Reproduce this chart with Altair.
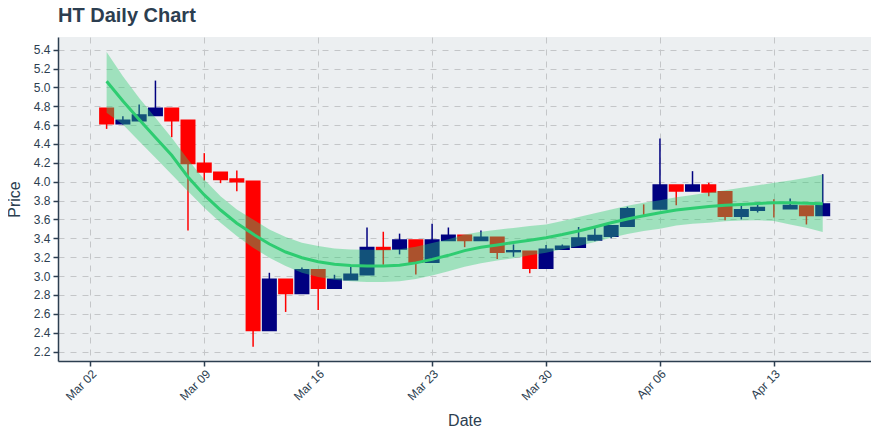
import altair as alt
import pandas as pd

dates = ["2020-03-03","2020-03-04","2020-03-05","2020-03-06","2020-03-07","2020-03-08","2020-03-09",
         "2020-03-10","2020-03-11","2020-03-12","2020-03-13","2020-03-14","2020-03-15","2020-03-16",
         "2020-03-17","2020-03-18","2020-03-19","2020-03-20","2020-03-21","2020-03-22","2020-03-23",
         "2020-03-24","2020-03-25","2020-03-26","2020-03-27","2020-03-28","2020-03-29","2020-03-30",
         "2020-03-31","2020-04-01","2020-04-02","2020-04-03","2020-04-04","2020-04-05","2020-04-06",
         "2020-04-07","2020-04-08","2020-04-09","2020-04-10","2020-04-11","2020-04-12","2020-04-13",
         "2020-04-14","2020-04-15","2020-04-16"]

opens = [4.775, 4.617, 4.648, 4.705, 4.775, 4.648, 4.193, 4.098, 4.027, 4.003, 2.425, 2.965, 2.817, 3.064,
         2.873, 2.965, 3.017, 3.300, 3.290, 3.380, 3.148, 3.380, 3.430, 3.380, 3.410, 3.262, 3.261, 3.085,
         3.286, 3.307, 3.385, 3.424, 3.530, 3.713, 3.713, 3.964, 3.904, 3.964, 3.890, 3.636, 3.700, 3.720,
         3.717, 3.741, 3.646]
highs = [4.780, 4.694, 4.818, 5.072, 4.775, 4.648, 4.303, 4.098, 4.119, 4.003, 3.035, 2.965, 3.090, 3.064,
         3.014, 3.100, 3.515, 3.470, 3.450, 3.380, 3.554, 3.515, 3.430, 3.484, 3.410, 3.335, 3.261, 3.330,
         3.335, 3.520, 3.530, 3.530, 3.735, 3.760, 4.458, 3.964, 4.112, 3.990, 3.890, 3.770, 3.784, 3.815,
         3.822, 3.745, 4.080]
lows = [4.560, 4.606, 4.645, 4.705, 4.472, 3.484, 4.013, 3.985, 3.900, 2.250, 2.425, 2.620, 2.817, 2.640,
        2.873, 2.965, 3.017, 3.120, 3.230, 3.017, 3.148, 3.380, 3.307, 3.380, 3.180, 3.205, 3.030, 3.085,
        3.285, 3.307, 3.370, 3.400, 3.530, 3.636, 3.710, 3.752, 3.904, 3.847, 3.593, 3.600, 3.674, 3.620,
        3.710, 3.547, 3.646]
closes = [4.617, 4.648, 4.705, 4.775, 4.648, 4.197, 4.105, 4.027, 4.003, 2.425, 2.965, 2.817, 3.064, 2.873,
          2.965, 3.017, 3.300, 3.285, 3.380, 3.148, 3.380, 3.430, 3.380, 3.410, 3.255, 3.266, 3.085, 3.282,
          3.314, 3.400, 3.427, 3.530, 3.710, 3.713, 3.964, 3.904, 3.964, 3.893, 3.636, 3.700, 3.724, 3.720,
          3.745, 3.646, 3.762]

trend = [5.065, 4.855, 4.660, 4.470, 4.280, 4.050, 3.860, 3.700, 3.560, 3.445, 3.340, 3.255, 3.195, 3.152,
         3.125, 3.112, 3.107, 3.107, 3.115, 3.140, 3.177, 3.220, 3.270, 3.305, 3.330, 3.355, 3.380, 3.407,
         3.440, 3.477, 3.520, 3.566, 3.605, 3.640, 3.672, 3.700, 3.720, 3.737, 3.750, 3.760, 3.770, 3.777,
         3.777, 3.772, 3.767]
band_upper = [5.375, 5.118, 4.888, 4.677, 4.465, 4.236, 4.024, 3.847, 3.706, 3.600, 3.495, 3.413, 3.353, 3.318,
              3.293, 3.283, 3.278, 3.278, 3.285, 3.310, 3.350, 3.390, 3.440, 3.470, 3.490, 3.510, 3.530, 3.548,
              3.585, 3.625, 3.665, 3.706, 3.745, 3.778, 3.805, 3.835, 3.860, 3.885, 3.910, 3.936, 3.962, 3.989,
              4.013, 4.042, 4.077]
band_lower = [4.730, 4.606, 4.430, 4.253, 4.077, 3.900, 3.724, 3.565, 3.424, 3.300, 3.195, 3.106, 3.036, 2.990,
              2.962, 2.945, 2.937, 2.937, 2.945, 2.970, 3.005, 3.050, 3.100, 3.135, 3.165, 3.190, 3.220, 3.248,
              3.285, 3.318, 3.360, 3.407, 3.445, 3.478, 3.502, 3.537, 3.555, 3.566, 3.580, 3.590, 3.592, 3.583,
              3.548, 3.513, 3.466]

y_ticks = [2.2, 2.4, 2.6, 2.8, 3.0, 3.2, 3.4, 3.6, 3.8, 4.0, 4.2, 4.4, 4.6, 4.8, 5.0, 5.2, 5.4]
x_ticks = ["2020-03-02", "2020-03-09", "2020-03-16", "2020-03-23", "2020-03-30", "2020-04-06", "2020-04-13"]
title_text = "HT Daily Chart"

df = pd.DataFrame({"date": dates, "open": opens, "high": highs, "low": lows, "close": closes,
                   "trend": trend, "upper": band_upper, "lower": band_lower})

FONT = "Liberation Sans"
TXT = "#2c3e50"

x_dom = [pd.Timestamp("2020-03-02", tz="UTC") - pd.Timedelta(days=1.68),
         pd.Timestamp("2020-04-13", tz="UTC") + pd.Timedelta(days=5.66)]
x_dom_ms = [int(t.value // 10**6) for t in x_dom]
x_tick_ms = [int(pd.Timestamp(t, tz="UTC").value // 10**6) for t in x_ticks]

label_expr = ("['Jan','Feb','Mar','Apr','May','Jun','Jul','Aug','Sep','Oct','Nov','Dec'][utcmonth(datum.value)]"
              " + ' ' + (utcdate(datum.value) < 10 ? '0' : '') + utcdate(datum.value)")

x_enc = alt.X("date:T",
              scale=alt.Scale(type="utc", domain=x_dom_ms, nice=False),
              axis=alt.Axis(title="Date", values=x_tick_ms, labelExpr=label_expr,
                            labelAngle=-45, labelAlign="right", labelBaseline="top",
                            labelFontSize=12, titleFontSize=16, titlePadding=10,
                            tickSize=5, labelPadding=2))
y_scale = alt.Scale(domain=[2.100, 5.534], nice=False, zero=False)
y_axis = alt.Axis(title="Price", values=y_ticks, format=".1f", labelFontSize=12,
                  titleFontSize=16, titlePadding=11, tickSize=5, labelPadding=3)

base = alt.Chart(df).transform_calculate(
    dir="datum.close > datum.open ? 'inc' : 'dec'"
)
col_scale = alt.Scale(domain=["inc", "dec"], range=["#000080", "#ff0000"])

wicks = base.mark_rule(strokeWidth=1.5).encode(
    x=x_enc,
    y=alt.Y("low:Q", scale=y_scale, axis=y_axis),
    y2="high:Q",
    color=alt.Color("dir:N", scale=col_scale, legend=None),
)
bodies = base.transform_filter("datum.open != datum.close").mark_bar(size=13, strokeWidth=2).encode(
    x=x_enc,
    y=alt.Y("open:Q", scale=y_scale, axis=y_axis),
    y2="close:Q",
    fill=alt.Fill("dir:N", scale=col_scale, legend=None),
    stroke=alt.Stroke("dir:N", scale=col_scale, legend=None),
)
band = base.mark_area(color="#2ecc71", opacity=0.4).encode(
    x=x_enc,
    y=alt.Y("lower:Q", scale=y_scale, axis=y_axis),
    y2="upper:Q",
)
line = base.mark_line(color="#2ecc71", strokeWidth=3).encode(
    x=x_enc,
    y=alt.Y("trend:Q", scale=y_scale, axis=y_axis),
)
title = alt.Chart(pd.DataFrame({"t": [title_text]})).mark_text(
    align="left", baseline="alphabetic", fontSize=20, fontWeight="bold", font=FONT, color=TXT
).encode(x=alt.value(0), y=alt.value(-14.7), text="t:N")

chart = alt.layer(wicks, bodies, band, line, title).properties(
    width=813, height=324,
    autosize=alt.AutoSizeParams(type="none"),
    padding={"left": 50, "top": 29, "right": 0, "bottom": 70},
).configure_view(
    fill="#eceff1", stroke=None
).configure_axis(
    labelFont=FONT, titleFont=FONT, labelColor=TXT, titleColor=TXT,
    titleFontWeight="normal",
    domainColor=TXT, domainWidth=1.5, tickColor=TXT, tickWidth=1.5,
    gridColor="#c4c6c8", gridDash=[6, 6], gridWidth=1,
)

chart.save("out.html", embed_options={"renderer": "svg", "actions": False})
